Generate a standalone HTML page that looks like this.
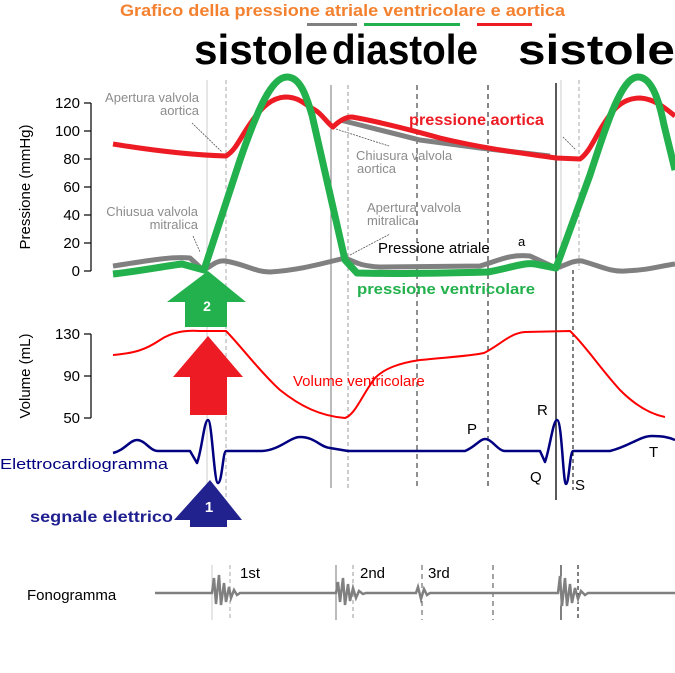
<!DOCTYPE html>
<html><head><meta charset="utf-8"><style>
body{margin:0;background:#fff}
svg{display:block}
text{font-family:"Liberation Sans",Arial,sans-serif}
</style></head><body>
<svg width="675" height="673" viewBox="0 0 675 673" xmlns="http://www.w3.org/2000/svg">
<rect width="675" height="673" fill="#fff"/>
<text x="120" y="16" font-size="17" font-weight="bold" fill="#f4812f" textLength="445" lengthAdjust="spacingAndGlyphs">Grafico della pressione atriale ventricolare e aortica</text>
<rect x="307" y="23" width="50" height="3" fill="#808080"/>
<rect x="364" y="23" width="96" height="3" fill="#22b14c"/>
<rect x="477" y="23" width="55" height="3" fill="#ed1c24"/>
<g font-size="42" font-weight="bold" fill="#000">
<text x="194" y="64" textLength="134" lengthAdjust="spacingAndGlyphs">sistole</text>
<text x="332" y="64" textLength="146" lengthAdjust="spacingAndGlyphs">diastole</text>
<text x="518" y="64" textLength="157" lengthAdjust="spacingAndGlyphs">sistole</text>
</g>
<g fill="none">
<line x1="207" y1="80" x2="207" y2="527" stroke="#ccc"/>
<line x1="226" y1="80" x2="226" y2="527" stroke="#aaa" stroke-dasharray="4,3"/>
<line x1="331" y1="85" x2="331" y2="488" stroke="#777"/>
<line x1="348" y1="85" x2="348" y2="488" stroke="#999" stroke-dasharray="4,3"/>
<line x1="417" y1="85" x2="417" y2="488" stroke="#555" stroke-dasharray="5,4" stroke-width="1.3"/>
<line x1="488" y1="85" x2="488" y2="488" stroke="#444" stroke-dasharray="5,4" stroke-width="1.3"/>
<line x1="556" y1="83" x2="556" y2="500" stroke="#000" stroke-width="1.3"/>
<line x1="561" y1="80" x2="561" y2="270" stroke="#ccc"/>
<line x1="579" y1="80" x2="579" y2="270" stroke="#aaa" stroke-dasharray="4,3"/>
<line x1="573" y1="270" x2="573" y2="490" stroke="#000" stroke-dasharray="4,3"/>
<line x1="212" y1="565" x2="212" y2="620" stroke="#ccc"/>
<line x1="230" y1="565" x2="230" y2="620" stroke="#aaa" stroke-dasharray="4,3"/>
<line x1="336" y1="565" x2="336" y2="620" stroke="#777"/>
<line x1="353" y1="565" x2="353" y2="620" stroke="#999" stroke-dasharray="4,3"/>
<line x1="422" y1="565" x2="422" y2="620" stroke="#555" stroke-dasharray="5,4"/>
<line x1="493" y1="565" x2="493" y2="620" stroke="#444" stroke-dasharray="5,4"/>
<line x1="561" y1="565" x2="561" y2="620" stroke="#000"/>
<line x1="578" y1="565" x2="578" y2="620" stroke="#000" stroke-dasharray="4,3"/>
</g>
<g stroke="#000" stroke-width="1.2">
<line x1="91" y1="103" x2="91" y2="271"/>
<line x1="84" y1="103" x2="91" y2="103"/><line x1="84" y1="131" x2="91" y2="131"/>
<line x1="84" y1="159" x2="91" y2="159"/><line x1="84" y1="187" x2="91" y2="187"/>
<line x1="84" y1="215" x2="91" y2="215"/><line x1="84" y1="243" x2="91" y2="243"/>
<line x1="84" y1="271" x2="91" y2="271"/>
<line x1="91" y1="334" x2="91" y2="418"/>
<line x1="84" y1="334" x2="91" y2="334"/><line x1="84" y1="376" x2="91" y2="376"/><line x1="84" y1="418" x2="91" y2="418"/>
</g>
<g font-size="15" text-anchor="end" fill="#000">
<text x="80" y="108">120</text><text x="80" y="136">100</text><text x="80" y="164">80</text>
<text x="80" y="192">60</text><text x="80" y="220">40</text><text x="80" y="248">20</text><text x="80" y="276">0</text>
<text x="80" y="339">130</text><text x="80" y="381">90</text><text x="80" y="423">50</text>
</g>
<text transform="translate(30,187) rotate(-90)" font-size="15" text-anchor="middle">Pressione (mmHg)</text>
<text transform="translate(30,376) rotate(-90)" font-size="15" text-anchor="middle">Volume (mL)</text>
<g font-size="13" fill="#8c8c8c">
<text x="199" y="102" text-anchor="end">Apertura valvola</text>
<text x="199" y="115" text-anchor="end">aortica</text>
<text x="198" y="216" text-anchor="end">Chiusua valvola</text>
<text x="198" y="229" text-anchor="end">mitralica</text>
<text x="356" y="160">Chiusura valvola</text>
<text x="357" y="173">aortica</text>
<text x="367" y="212">Apertura valvola</text>
<text x="367" y="225">mitralica</text>
</g>
<g stroke="#555" stroke-width="0.8" stroke-dasharray="2,1" fill="none">
<line x1="192" y1="123" x2="222" y2="152"/>
<line x1="193" y1="236" x2="200" y2="252"/>
<line x1="336" y1="129" x2="389" y2="146"/>
<line x1="350" y1="255" x2="390" y2="234"/>
<line x1="563" y1="137" x2="576" y2="150"/>
</g>
<path fill="none" stroke="#808080" stroke-width="5" stroke-linejoin="round" d="M113,266 C140,262 170,256 190,258 L203,270 C210,268 215,260 225,261 C245,264 255,272 270,272 C300,270 320,264 345,258 C355,262 360,266 380,267 L480,266 C500,260 510,254 530,256 L556,268 C565,266 572,260 582,261 C600,266 610,272 625,271 C650,270 660,266 675,264"/>
<polyline fill="none" stroke="#808080" stroke-width="5" points="340,120 360,125 420,140 480,148 550,156"/>
<path fill="none" stroke="#ed1c24" stroke-width="5" stroke-linejoin="round" d="M113,144 C150,150 190,155 226,156 C236,150 240,138 250,124 C262,106 272,98 285,97 C300,97 305,105 315,110 C322,114 328,124 333,127 C338,122 345,117 352,117 C370,120 400,127 440,138 C490,150 530,154 556,158 L580,159 C590,152 596,135 605,122 C615,106 625,98 640,98 C655,99 665,108 675,116"/>
<path fill="none" stroke="#22b14c" stroke-width="7" stroke-linejoin="round" d="M113,274 C140,271 165,266 182,264 L204,270 L240,160 C258,108 272,77 287,77 C300,77 306,95 312,115 L345,260 L357,273 C390,274 450,273 488,272 C510,268 525,262 535,264 L556,268 L590,175 C608,120 622,77 638,77 C650,77 658,95 664,125 L675,170"/>
<text x="409" y="125" font-size="16" font-weight="bold" fill="#ed1c24" textLength="135" lengthAdjust="spacingAndGlyphs">pressione aortica</text>
<text x="357" y="294" font-size="15" font-weight="bold" fill="#22b14c" textLength="178" lengthAdjust="spacingAndGlyphs">pressione ventricolare</text>
<text x="378" y="253" font-size="15" fill="#000">Pressione atriale</text>
<text x="518" y="246" font-size="13" fill="#000">a</text>
<path fill="none" stroke="#ff0000" stroke-width="2" d="M113,355 C135,353 145,350 160,340 C172,332 185,330 200,331 L226,331 C240,345 260,372 280,390 C300,406 320,416 345,418 C355,415 362,395 375,378 C385,368 400,363 420,360 C450,357 470,356 484,353 C500,345 510,333 525,332 L570,331 C585,345 600,368 620,390 C635,405 650,414 665,417"/>
<text x="293" y="386" font-size="15" fill="#ff0000">Volume ventricolare</text>
<path fill="none" stroke="#000080" stroke-width="2.5" stroke-linejoin="round" d="M113,453 C125,450 130,440 137,440 C145,440 150,451 158,451 L190,451 L197,463 C202,450 204,420 208,420 C212,420 214,483 218,483 C222,483 223,451 226,451 L262,451 C280,450 290,437 300,437 C315,437 320,447 330,448 L348,451 L465,451 C475,447 480,439 485,439 C492,439 498,451 505,451 L540,451 L545,462 C550,448 553,420 557,420 C562,420 563,484 566,484 C569,484 570,451 573,451 L610,451 C630,446 640,436 652,436 C662,436 668,437 675,440"/>
<text x="0" y="469" font-size="15" fill="#000080" textLength="168" lengthAdjust="spacingAndGlyphs">Elettrocardiogramma</text>
<g font-size="15" fill="#000">
<text x="467" y="434">P</text><text x="537" y="415">R</text><text x="530" y="482">Q</text><text x="575" y="490">S</text><text x="649" y="457">T</text>
</g>
<text x="30" y="522" font-size="16" font-weight="bold" fill="#1f1f8f" textLength="143" lengthAdjust="spacingAndGlyphs">segnale elettrico</text>
<polygon fill="#22b14c" points="208,271 246,302 227,302 227,327 185,327 185,302 167,302"/>
<text x="207" y="311" font-size="14" font-weight="bold" fill="#fff" text-anchor="middle">2</text>
<polygon fill="#ed1c24" points="208,336 243,377 227,377 227,415 190,415 190,377 173,377"/>
<polygon fill="#22228f" points="210,480 242,520 227,520 227,527 190,527 190,520 174,520"/>
<text x="209" y="512" font-size="15" font-weight="bold" fill="#fff" text-anchor="middle">1</text>
<text x="27" y="600" font-size="15" fill="#000">Fonogramma</text>
<polyline fill="none" stroke="#808080" stroke-width="2.5" points="155,593 212,593 214,578 216,604 219,575 221,605 224,583 226,602 229,587 231,598 234,590 237,595 240,593 336,593 338,582 340,602 343,578 345,605 348,584 350,601 353,588 356,598 359,591 363,594 366,593 416,593 418,587 421,599 424,589 427,595 430,593 558,593 560,576 562,606 565,578 567,606 570,584 572,603 575,588 578,599 581,591 585,595 588,593 675,593"/>
<g font-size="15" fill="#000">
<text x="240" y="578">1st</text><text x="360" y="578">2nd</text><text x="428" y="578">3rd</text>
</g>
</svg>
</body></html>
